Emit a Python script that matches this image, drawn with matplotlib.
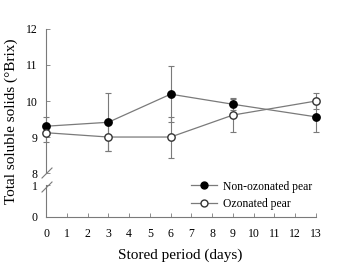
import matplotlib
matplotlib.use("Agg")
import matplotlib.pyplot as plt
from matplotlib.lines import Line2D

days = [0, 3, 6, 9, 13]
non_ozonated = [9.30, 9.41, 10.19, 9.91, 9.56]
non_ozonated_err = [0.25, 0.80, 0.77, 0.15, 0.42]
ozonated = [9.12, 9.00, 9.00, 9.61, 10.00]
ozonated_err = [0.25, 0.40, 0.57, 0.47, 0.23]

x_ticks = list(range(14))
upper_ticks = [8, 9, 10, 11, 12]
lower_ticks = [0, 1]

plt.rcParams['font.family'] = ['Liberation Serif', 'DejaVu Serif']
grey = '#7a7a7a'

fig = plt.figure(figsize=(3.42, 2.76), dpi=100)
left, right = 46 / 342, 316 / 342
ax_up = fig.add_axes([left, 0.373, right - left, 0.895 - 0.373])
ax_lo = fig.add_axes([left, 0.2138, right - left, 0.3297 - 0.2138])

for ax in (ax_up, ax_lo):
    ax.set_xlim(0, 13)
    ax.spines['top'].set_visible(False)
    ax.spines['right'].set_visible(False)
    for s in ('left', 'bottom'):
        ax.spines[s].set_color(grey)
        ax.spines[s].set_linewidth(0.8)
    ax.tick_params(direction='in', length=3, width=0.6, color=grey,
                   labelsize=8.5)
    ax.tick_params(axis='y', pad=6)
    ax.tick_params(axis='x', pad=8)
    ax.patch.set_alpha(0)

ax_up.spines['bottom'].set_visible(False)
ax_up.set_xticks([])
ax_up.set_ylim(8, 12)
ax_up.set_yticks(upper_ticks)
ax_lo.set_ylim(0, 1)
ax_lo.set_yticks(lower_ticks)
ax_lo.set_xticks(x_ticks)

ax_up.errorbar(days, non_ozonated, yerr=non_ozonated_err, color=grey,
               lw=0.9, marker='o', ms=5.3, mfc='black', mec='black',
               ecolor=grey, elinewidth=0.8, capsize=2.5, capthick=0.8,
               clip_on=False, zorder=3)
ax_up.errorbar(days, ozonated, yerr=ozonated_err, color=grey,
               lw=0.9, marker='o', ms=5.3, mfc='white', mec='#333333',
               ecolor=grey, elinewidth=0.8, capsize=2.5, capthick=0.8,
               clip_on=False, zorder=3)

h1 = Line2D([], [], color=grey, lw=0.9, marker='o', ms=5, mfc='black', mec='black')
h2 = Line2D([], [], color=grey, lw=0.9, marker='o', ms=5, mfc='white', mec='#333333')
fig.legend([h1, h2], ['Non-ozonated pear', 'Ozonated pear'],
           loc='center left', bbox_to_anchor=(180 / 342, 0.293),
           frameon=False, fontsize=8.4, handlelength=2.3,
           handletextpad=0.5, labelspacing=0.45)

# axis break marks
for y0 in (178, 192):
    fig.add_artist(Line2D([42 / 342, 52 / 342],
                          [(276 - y0) / 276, (276 - y0 + 10) / 276],
                          transform=fig.transFigure, color=grey, lw=0.8))

fig.text(11 / 342, 0.56, 'Total soluble solids (°Brix)', rotation=90,
         ha='center', va='center', fontsize=11)
fig.text(0.527, 0.076, 'Stored period (days)', ha='center', va='center',
         fontsize=11)

fig.savefig('out.png', dpi=100)
